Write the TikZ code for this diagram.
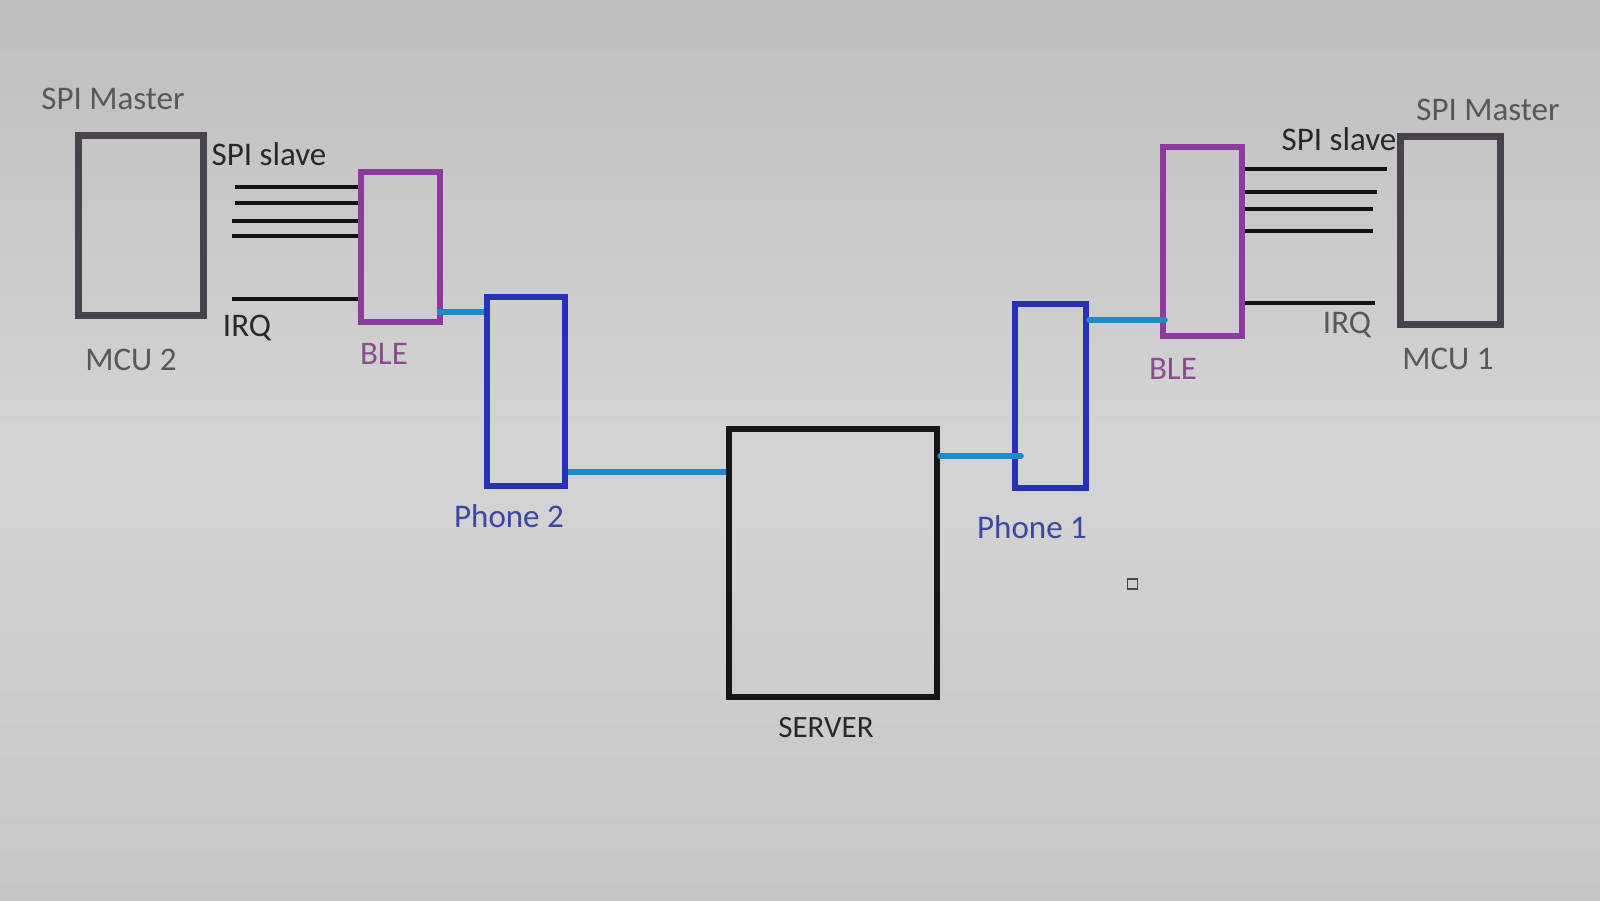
\documentclass[tikz,border=0pt]{standalone}
\usepackage{fontspec}
\setmainfont{Carlito}
\begin{document}
\begin{tikzpicture}[x=1pt,y=-1pt,
  box/.style={draw,rectangle,inner sep=0pt,fill=none},
  lbl/.style={inner sep=0pt,font=\fontsize{33}{40}\selectfont,text height=0.65em,text depth=0pt},
  wire/.style={draw=wirec,line width=4},
  link/.style={draw=linkc,line width=5.5,line cap=round}
]
\definecolor{bgtop}{RGB}{190,190,190}
\definecolor{bgmid}{RGB}{212,212,212}
\definecolor{bgbot}{RGB}{198,198,198}
\definecolor{mcuc}{RGB}{72,66,76}
\definecolor{blec}{RGB}{140,58,156}
\definecolor{phonec}{RGB}{40,48,180}
\definecolor{serverc}{RGB}{22,22,24}
\definecolor{wirec}{RGB}{18,18,20}
\definecolor{linkc}{RGB}{30,138,200}
\definecolor{graytxt}{RGB}{88,88,92}
\definecolor{darktxt}{RGB}{40,40,44}
\definecolor{bletxt}{RGB}{138,78,142}
\definecolor{phonetxt}{RGB}{60,72,160}
% background
\path[top color=bgtop,bottom color=bgbot,middle color=bgmid] (0,0) rectangle (1600,900);
\useasboundingbox (0,0) rectangle (1600,900);
% boxes
\node[box,draw=mcuc,line width=7,minimum width=125,minimum height=180] (mcu2) at (140.5,225) {};
\node[box,draw=blec,line width=6,minimum width=79,minimum height=150] (ble2) at (400.5,247) {};
\node[box,draw=phonec,line width=6,minimum width=78,minimum height=189] (phone2) at (526,391.5) {};
\node[box,draw=serverc,line width=6,minimum width=208,minimum height=268] (server) at (833,563) {};
\node[box,draw=phonec,line width=6,minimum width=71,minimum height=184] (phone1) at (1050.5,396) {};
\node[box,draw=blec,line width=6,minimum width=79,minimum height=189] (ble1) at (1202.5,241.5) {};
\node[box,draw=mcuc,line width=7,minimum width=100,minimum height=188] (mcu1) at (1450,230) {};
\node[box,draw=graytxt!80!black,line width=1.5,minimum width=10,minimum height=10] (mark) at (1132.5,584) {};
% SPI wires left
\coordinate (l1) at (235,187);
\coordinate (l2) at (235,203);
\coordinate (l3) at (232,221);
\coordinate (l4) at (232,236);
\coordinate (l5) at (232,299);
\foreach \c in {l1,l2,l3,l4,l5} \draw[wire] (\c) -- (ble2.west |- \c);
% SPI wires right
\coordinate (r1) at (1387,169);
\coordinate (r2) at (1377,192);
\coordinate (r3) at (1373,209);
\coordinate (r4) at (1373,231);
\coordinate (r5) at (1375,303);
\foreach \c in {r1,r2,r3,r4,r5} \draw[wire] (ble1.east |- \c) -- (\c);
% blue links
\draw[link,line cap=butt] ([xshift=-6]ble2.east |- 0,312) -- (phone2.west |- 0,312);
\draw[link,line cap=butt] (phone2.east |- 0,472) -- (server.west |- 0,472);
\draw[link] (server.east |- 0,456) -- ([xshift=9]phone1.west |- 0,456);
\draw[link] (phone1.east |- 0,320) -- ([xshift=5]ble1.west |- 0,320);
% labels
\node[lbl,text=graytxt] (spim2) at (113,106) {SPI Master};
\node[lbl,text=darktxt] (spis2) at (269,162) {SPI slave};
\node[lbl,text=darktxt] (irq2) at (247,333) {IRQ};
\node[lbl,text=graytxt] (tmcu2) at (131,367) {MCU 2};
\node[lbl,text=bletxt] (tble2) at (384,361) {BLE};
\node[lbl,text=phonetxt] (tphone2) at (509,524) {Phone 2};
\node[lbl,text=darktxt,font=\fontsize{31}{37}\selectfont] (tserver) at (826,734) {SERVER};
\node[lbl,text=phonetxt] (tphone1) at (1032,535) {Phone 1};
\node[lbl,text=bletxt] (tble1) at (1173,376) {BLE};
\node[lbl,text=graytxt] (irq1) at (1347,330) {IRQ};
\node[lbl,text=graytxt] (tmcu1) at (1448,366) {MCU 1};
\node[lbl,text=darktxt] (spis1) at (1339,147) {SPI slave};
\node[lbl,text=graytxt] (spim1) at (1488,117) {SPI Master};
\end{tikzpicture}
\end{document}
